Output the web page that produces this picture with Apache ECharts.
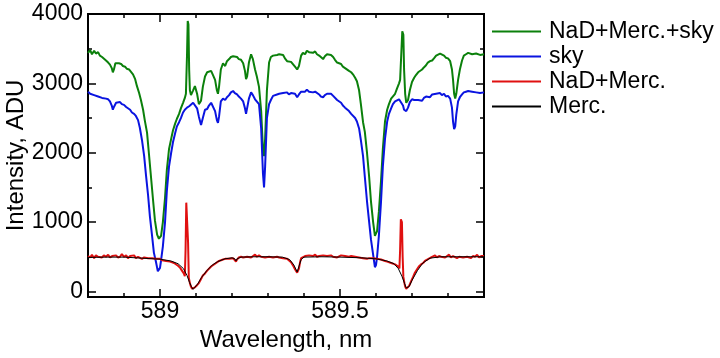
<!DOCTYPE html>
<html><head><meta charset="utf-8">
<script src="https://cdn.jsdelivr.net/npm/echarts@6/dist/echarts.min.js"></script>
<style>html,body{margin:0;padding:0;background:#fff}#c{width:720px;height:358px}</style>
</head><body><div id="c"></div>
<script>
const seriesNames = ['NaD+Merc.+sky', 'sky', 'NaD+Merc.', 'Merc.'];
const xMajorTicks = [589, 589.5];
const xMinorTicks = [588.9, 589.1, 589.2, 589.3, 589.4, 589.6, 589.7, 589.8];
const yMajorTicks = [0, 1000, 2000, 3000, 4000];
const yMinorTicks = [500, 1500, 2500, 3500];

const greenData = [[588.800,3440],[588.806,3480],[588.811,3420],[588.817,3470],[588.822,3430],[588.828,3450],[588.833,3400],[588.839,3380],[588.844,3360],[588.850,3330],[588.856,3300],[588.861,3270],[588.866,3220],[588.869,3160],[588.872,3200],[588.876,3290],[588.881,3310],[588.886,3290],[588.892,3280],[588.897,3250],[588.903,3240],[588.908,3210],[588.914,3200],[588.919,3180],[588.925,3130],[588.931,3060],[588.936,2960],[588.942,2860],[588.947,2760],[588.953,2620],[588.958,2460],[588.964,2290],[588.969,2000],[588.975,1650],[588.981,1300],[588.986,1020],[588.992,820],[588.997,760],[589.000,770],[589.003,800],[589.008,1000],[589.014,1350],[589.019,1750],[589.025,2050],[589.031,2200],[589.036,2320],[589.042,2420],[589.047,2490],[589.053,2560],[589.058,2640],[589.064,2720],[589.069,2790],[589.072,2850],[589.075,3400],[589.077,3900],[589.079,3850],[589.081,3200],[589.083,2900],[589.086,2830],[589.092,2900],[589.097,2960],[589.103,2850],[589.108,2700],[589.114,2750],[589.119,2950],[589.125,3100],[589.131,3160],[589.136,3140],[589.142,3180],[589.147,3160],[589.153,3050],[589.158,2900],[589.161,2850],[589.164,2950],[589.169,3200],[589.175,3290],[589.181,3250],[589.186,3320],[589.192,3350],[589.197,3380],[589.203,3390],[589.208,3370],[589.214,3380],[589.219,3350],[589.225,3340],[589.231,3290],[589.236,3180],[589.239,3060],[589.242,3100],[589.247,3300],[589.253,3420],[589.258,3350],[589.264,3200],[589.269,3100],[589.275,2950],[589.281,2600],[589.286,2050],[589.289,1950],[589.292,2200],[589.297,2900],[589.303,3300],[589.308,3380],[589.314,3400],[589.319,3380],[589.325,3410],[589.331,3420],[589.336,3400],[589.342,3410],[589.347,3360],[589.353,3320],[589.358,3300],[589.364,3310],[589.369,3300],[589.375,3240],[589.381,3200],[589.386,3250],[589.392,3400],[589.397,3440],[589.403,3420],[589.408,3470],[589.414,3450],[589.419,3470],[589.425,3440],[589.431,3460],[589.436,3420],[589.442,3400],[589.447,3380],[589.453,3350],[589.458,3390],[589.464,3420],[589.469,3400],[589.475,3410],[589.481,3380],[589.486,3340],[589.492,3300],[589.497,3320],[589.503,3280],[589.508,3240],[589.514,3220],[589.519,3200],[589.525,3180],[589.531,3160],[589.536,3130],[589.542,3080],[589.547,3030],[589.553,2900],[589.558,2700],[589.564,2440],[589.569,2300],[589.575,2000],[589.581,1650],[589.586,1300],[589.592,1000],[589.597,800],[589.600,790],[589.603,870],[589.608,1150],[589.614,1600],[589.619,2050],[589.625,2450],[589.631,2620],[589.636,2700],[589.642,2780],[589.647,2780],[589.653,2850],[589.658,2920],[589.664,3000],[589.667,3050],[589.670,3400],[589.673,3750],[589.676,3700],[589.678,3200],[589.681,2850],[589.684,2720],[589.689,2760],[589.694,2900],[589.700,3020],[589.706,3080],[589.711,3120],[589.717,3160],[589.722,3180],[589.728,3200],[589.733,3230],[589.739,3260],[589.744,3300],[589.750,3320],[589.756,3330],[589.761,3360],[589.767,3400],[589.772,3420],[589.778,3430],[589.783,3410],[589.789,3400],[589.794,3370],[589.800,3360],[589.806,3320],[589.811,3200],[589.814,3050],[589.817,2850],[589.820,2780],[589.823,2850],[589.828,3050],[589.833,3200],[589.839,3330],[589.844,3400],[589.850,3420],[589.856,3440],[589.861,3430],[589.867,3420],[589.872,3440],[589.878,3430],[589.883,3420],[589.889,3410],[589.894,3430],[589.900,3420]];

const skyData = [[588.800,2880],[588.806,2850],[588.811,2870],[588.817,2830],[588.822,2840],[588.828,2810],[588.833,2820],[588.839,2790],[588.844,2800],[588.850,2780],[588.856,2770],[588.861,2740],[588.866,2680],[588.869,2620],[588.872,2660],[588.878,2720],[588.883,2710],[588.889,2730],[588.894,2700],[588.900,2690],[588.906,2660],[588.911,2650],[588.917,2620],[588.922,2580],[588.928,2560],[588.933,2530],[588.939,2470],[588.944,2360],[588.950,2180],[588.956,1950],[588.961,1680],[588.967,1380],[588.972,1080],[588.978,800],[588.983,560],[588.989,420],[588.994,290],[588.997,280],[589.000,340],[589.003,450],[589.008,650],[589.014,1000],[589.019,1450],[589.025,1800],[589.031,2000],[589.036,2150],[589.042,2280],[589.047,2380],[589.053,2440],[589.058,2500],[589.064,2580],[589.069,2620],[589.075,2650],[589.081,2670],[589.086,2690],[589.092,2720],[589.097,2700],[589.103,2640],[589.108,2520],[589.114,2400],[589.119,2500],[589.125,2620],[589.131,2630],[589.136,2680],[589.142,2720],[589.147,2700],[589.153,2600],[589.158,2470],[589.161,2430],[589.164,2520],[589.169,2740],[589.175,2780],[589.181,2760],[589.186,2800],[589.192,2830],[589.197,2870],[589.203,2890],[589.208,2860],[589.214,2840],[589.219,2810],[589.225,2780],[589.231,2740],[589.236,2640],[589.239,2560],[589.242,2580],[589.247,2780],[589.253,2870],[589.258,2830],[589.264,2770],[589.269,2760],[589.275,2700],[589.281,2350],[589.286,1700],[589.289,1500],[589.292,1800],[589.297,2500],[589.303,2700],[589.308,2760],[589.314,2820],[589.319,2800],[589.325,2840],[589.331,2850],[589.336,2830],[589.342,2860],[589.347,2880],[589.353,2870],[589.358,2840],[589.364,2860],[589.369,2880],[589.375,2850],[589.381,2800],[589.386,2840],[589.392,2880],[589.397,2890],[589.403,2880],[589.408,2910],[589.414,2880],[589.419,2900],[589.425,2870],[589.431,2880],[589.436,2860],[589.442,2840],[589.447,2810],[589.453,2800],[589.458,2830],[589.464,2850],[589.469,2840],[589.475,2850],[589.481,2820],[589.486,2800],[589.492,2760],[589.497,2740],[589.503,2720],[589.508,2680],[589.514,2650],[589.519,2630],[589.525,2600],[589.531,2560],[589.536,2540],[589.542,2500],[589.547,2450],[589.553,2350],[589.558,2180],[589.564,1950],[589.569,1650],[589.575,1300],[589.581,1000],[589.586,750],[589.592,530],[589.597,350],[589.600,380],[589.603,500],[589.608,800],[589.614,1300],[589.619,1800],[589.625,2200],[589.631,2450],[589.636,2560],[589.642,2640],[589.647,2700],[589.653,2740],[589.658,2760],[589.664,2770],[589.669,2750],[589.675,2680],[589.678,2620],[589.684,2600],[589.689,2650],[589.694,2730],[589.700,2770],[589.706,2760],[589.711,2740],[589.717,2760],[589.722,2780],[589.728,2750],[589.733,2790],[589.739,2810],[589.744,2830],[589.750,2800],[589.756,2840],[589.761,2830],[589.767,2850],[589.772,2840],[589.778,2860],[589.783,2830],[589.789,2850],[589.794,2810],[589.800,2820],[589.806,2780],[589.811,2650],[589.814,2450],[589.817,2340],[589.820,2380],[589.823,2550],[589.828,2740],[589.833,2800],[589.839,2840],[589.844,2870],[589.850,2880],[589.856,2890],[589.861,2870],[589.867,2880],[589.872,2860],[589.878,2870],[589.883,2880],[589.889,2860],[589.894,2880],[589.900,2870]];

const nadData = [[588.800,510],[588.806,490],[588.811,530],[588.817,480],[588.822,520],[588.828,500],[588.833,510],[588.839,490],[588.844,520],[588.850,500],[588.856,530],[588.861,490],[588.867,510],[588.872,500],[588.878,520],[588.883,490],[588.889,500],[588.894,540],[588.900,500],[588.906,520],[588.911,480],[588.917,510],[588.922,490],[588.928,520],[588.933,480],[588.939,500],[588.944,490],[588.950,470],[588.956,490],[588.961,470],[588.967,480],[588.972,460],[588.978,480],[588.983,460],[588.989,470],[588.994,450],[589.000,470],[589.006,450],[589.011,460],[589.017,440],[589.022,450],[589.028,430],[589.033,440],[589.039,410],[589.044,390],[589.050,370],[589.056,340],[589.061,300],[589.066,260],[589.069,220],[589.071,600],[589.073,1280],[589.076,1280],[589.078,700],[589.080,200],[589.083,120],[589.086,70],[589.089,40],[589.092,30],[589.094,40],[589.097,60],[589.103,90],[589.108,120],[589.114,180],[589.119,230],[589.125,260],[589.131,300],[589.136,320],[589.142,360],[589.147,380],[589.153,400],[589.158,420],[589.164,440],[589.169,450],[589.175,460],[589.181,470],[589.186,480],[589.192,470],[589.197,490],[589.203,480],[589.206,470],[589.211,430],[589.214,460],[589.219,490],[589.225,500],[589.231,490],[589.236,510],[589.242,500],[589.247,520],[589.253,490],[589.258,510],[589.264,530],[589.269,500],[589.275,520],[589.281,500],[589.286,510],[589.292,490],[589.297,510],[589.303,500],[589.308,520],[589.314,490],[589.319,510],[589.325,500],[589.331,490],[589.336,500],[589.342,480],[589.347,490],[589.353,470],[589.358,450],[589.364,420],[589.369,380],[589.375,320],[589.381,270],[589.383,270],[589.386,330],[589.389,420],[589.392,480],[589.397,500],[589.403,510],[589.408,490],[589.414,520],[589.419,500],[589.425,510],[589.431,530],[589.436,500],[589.442,510],[589.447,490],[589.453,520],[589.458,500],[589.464,510],[589.469,490],[589.475,520],[589.481,500],[589.486,510],[589.492,490],[589.497,500],[589.503,520],[589.508,500],[589.514,510],[589.519,490],[589.525,500],[589.531,510],[589.536,490],[589.542,500],[589.547,510],[589.553,490],[589.558,500],[589.564,480],[589.569,490],[589.575,470],[589.581,480],[589.586,470],[589.592,480],[589.597,460],[589.603,470],[589.608,450],[589.614,460],[589.619,440],[589.625,440],[589.631,430],[589.636,420],[589.642,410],[589.647,400],[589.653,390],[589.658,380],[589.662,360],[589.665,330],[589.667,600],[589.669,1040],[589.672,1000],[589.674,500],[589.676,210],[589.679,120],[589.681,70],[589.684,40],[589.686,30],[589.689,40],[589.692,80],[589.697,140],[589.703,210],[589.708,270],[589.714,320],[589.719,360],[589.725,390],[589.731,410],[589.736,440],[589.742,460],[589.747,480],[589.753,490],[589.758,500],[589.764,520],[589.769,490],[589.775,510],[589.781,500],[589.786,520],[589.792,490],[589.797,500],[589.803,530],[589.808,490],[589.814,510],[589.819,500],[589.825,480],[589.831,500],[589.836,520],[589.842,490],[589.847,510],[589.853,500],[589.858,520],[589.864,480],[589.869,510],[589.875,500],[589.881,530],[589.886,490],[589.892,510],[589.897,500],[589.900,510]];

const mercData = [[588.800,490],[588.850,495],[588.900,495],[588.950,480],[589.000,465],[589.030,440],[589.050,400],[589.065,330],[589.075,230],[589.082,130],[589.088,60],[589.092,30],[589.097,50],[589.105,110],[589.115,200],[589.130,300],[589.145,380],[589.160,430],[589.180,470],[589.200,485],[589.208,470],[589.211,440],[589.214,470],[589.225,495],[589.260,500],[589.300,500],[589.340,495],[589.360,460],[589.372,380],[589.381,280],[589.385,300],[589.392,460],[589.400,495],[589.450,500],[589.500,495],[589.560,485],[589.600,470],[589.630,440],[589.650,400],[589.662,330],[589.672,220],[589.679,120],[589.684,50],[589.687,30],[589.692,70],[589.700,160],[589.715,300],[589.730,410],[589.750,480],[589.780,500],[589.850,500],[589.900,500]];

const colors = ['#0b800b', '#0a14e0', '#e01010', '#000000'];
const FONT = "'Liberation Sans', Arial, sans-serif";

function xAx(pos, ticks, len, withLabel) {
  return {
    type: 'value', min: 588.8, max: 589.9, position: pos,
    axisLine: { show: true, onZero: false, lineStyle: { color: '#000', width: 2 } },
    axisTick: { show: true, inside: true, length: len, customValues: ticks, lineStyle: { color: '#000', width: 1.5 } },
    axisLabel: withLabel ? { show: true, customValues: ticks, color: '#000', fontSize: 23, fontFamily: FONT, margin: 3, formatter: v => String(v) } : { show: false },
    splitLine: { show: false }
  };
}
function yAx(pos, ticks, len, withLabel) {
  return {
    type: 'value', min: -80, max: 4000, position: pos,
    axisLine: { show: true, onZero: false, lineStyle: { color: '#000', width: 2 } },
    axisTick: { show: true, inside: true, length: len, customValues: ticks, lineStyle: { color: '#000', width: 1.5 } },
    axisLabel: withLabel ? { show: true, customValues: ticks, color: '#000', fontSize: 23, fontFamily: FONT, margin: 5, formatter: v => String(v) } : { show: false },
    splitLine: { show: false }
  };
}

const xAxes = [xAx('bottom', xMajorTicks, 8, true), xAx('bottom', xMinorTicks, 4, false), xAx('top', xMajorTicks, 8, false), xAx('top', xMinorTicks, 4, false)];
xAxes[0].name = 'Wavelength, nm';
xAxes[0].nameLocation = 'middle';
xAxes[0].nameGap = 31;
xAxes[0].nameMoveOverlap = false;
xAxes[0].nameTextStyle = { color: '#000', fontSize: 24, fontFamily: FONT };
const yAxes = [yAx('left', yMajorTicks, 8, true), yAx('left', yMinorTicks, 4, false), yAx('right', yMajorTicks, 8, false), yAx('right', yMinorTicks, 4, false)];
yAxes[0].name = 'Intensity, ADU';
yAxes[0].nameLocation = 'middle';
yAxes[0].nameGap = 60;
yAxes[0].nameMoveOverlap = false;
yAxes[0].nameTextStyle = { color: '#000', fontSize: 24, fontFamily: FONT };

const datasets = [greenData, skyData, nadData, mercData];
const widths = [2, 2, 2, 1];

const chart = echarts.init(document.getElementById('c'), null, { renderer: 'canvas' });
chart.setOption({
  animation: false,
  backgroundColor: '#fff',
  grid: { left: 88, right: 236, top: 14, bottom: 61, containLabel: false, outerBoundsMode: 'none' },
  legend: {
    orient: 'vertical', left: 487, top: 15, itemWidth: 49, itemHeight: 2, itemGap: 2,
    icon: 'rect',
    data: seriesNames.map((n, i) => ({ name: n, itemStyle: { color: colors[i] } })),
    textStyle: { color: '#000', fontSize: 23, fontFamily: FONT, padding: [0, 0, 0, 3], lineHeight: 22 }
  },
  xAxis: xAxes,
  yAxis: yAxes,
  series: seriesNames.map((n, i) => ({
    name: n, type: 'line', data: datasets[i], xAxisIndex: 0, yAxisIndex: 0,
    symbol: 'none', showSymbol: false, sampling: null,
    lineStyle: { color: colors[i], width: widths[i] },
    itemStyle: { color: colors[i] },
    z: 2 + i
  }))
});
</script></body></html>
